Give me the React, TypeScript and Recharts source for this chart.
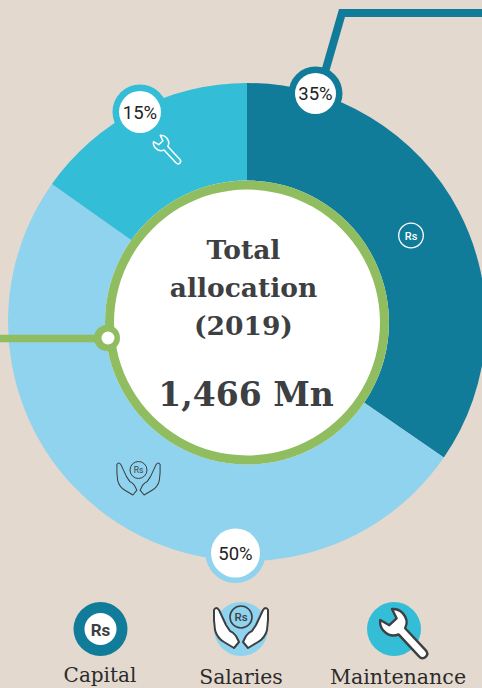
import React from 'react';
import { PieChart, Pie, Cell } from 'recharts';

const categories = ['Capital', 'Salaries', 'Maintenance'];
// slice sizes as drawn in the picture; the printed labels are rounded
const sliceValues = [34.6, 50.2, 15.2];
const percentLabels = ['35%', '50%', '15%'];
const sliceColors = ['#117b9a', '#8fd3ee', '#33bdd6'];
const titleLines = ['Total', 'allocation', '(2019)'];
const totalLabel = '1,466 Mn';

const data = categories.map((name, i) => ({ name, value: sliceValues[i] }));

const BG = '#e3d9ce';
const GREEN = '#8fbd5f';
const DARK = '#3d3f42';
const SERIF = "'DejaVu Serif', serif";
const SANS = 'Roboto, sans-serif';

const badges = [
    { x: 315.5, y: 93.5, r: 20.5, ring: 27 },
    { x: 235.5, y: 553, r: 24.5, ring: 30 },
    { x: 140, y: 112, r: 21, ring: 27.5 },
];
const legendLabels = [
    { x: 100, y: 682, size: 20 },
    { x: 241, y: 684, size: 20.4 },
    { x: 398, y: 684, size: 20.6 },
];

// right hand of the pair, x measured from the icon's centre line
const HAND =
    'M2 34 L5 28 Q8 24 11 23 L15 17 L22 2 Q25 -2 27 2 L27 12 L26 22 Q24 30 17 34 L7 40 Z';

const Hands: React.FC<{ x: number; y: number; s: number; fill: string; width: number }> = ({ x, y, s, fill, width }) => (
    <g stroke={DARK} strokeWidth={width} fill={fill} strokeLinejoin="round">
        <path d={HAND} transform={`translate(${x},${y}) scale(${s})`} />
        <path d={HAND} transform={`translate(${x},${y}) scale(${-s},${s})`} />
    </g>
);

const WRENCH =
    'M-4.5 10 Q-13 7 -13 -3 Q-13 -9 -8 -13 L-5 -3 L5 -3 L8 -13 Q13 -9 13 -3 Q13 7 4.5 10 L4.5 40 Q4.5 45 0 45 Q-4.5 45 -4.5 40 Z';

const Overlay: React.FC = () => (
    <svg width={482} height={688} style={{ position: 'absolute', left: 0, top: 0 }}>
        {/* leader lines */}
        <path d="M325 72 L342 13 L482 13" fill="none" stroke={sliceColors[0]} strokeWidth={8} />
        <line x1={0} y1={338.5} x2={100} y2={338.5} stroke={GREEN} strokeWidth={7.5} />
        <circle cx={107} cy={338} r={13} fill={GREEN} />
        <circle cx={108} cy={338} r={6.5} fill="#fff" />

        {/* percent badges */}
        {badges.map((b, i) => (
            <g key={i}>
                <circle cx={b.x} cy={b.y} r={b.ring} fill={sliceColors[i]} />
                <circle cx={b.x} cy={b.y} r={b.r} fill="#fff" />
                <text
                    x={b.x}
                    y={b.y + 6.5}
                    textAnchor="middle"
                    fontFamily={SANS}
                    fontSize={18.5}
                    fill="#222"
                >
                    {percentLabels[i]}
                </text>
            </g>
        ))}

        {/* icons on the ring */}
        <circle cx={411} cy={235.5} r={12.3} fill="none" stroke="#fff" strokeWidth={1.3} />
        <text x={411} y={239.5} textAnchor="middle" fontFamily={SANS} fontWeight={500} fontSize={11} fill="#fff">Rs</text>

        <circle cx={138.5} cy={470} r={8.5} fill="none" stroke={DARK} strokeWidth={1} />
        <text x={138.5} y={473} textAnchor="middle" fontFamily={SANS} fontSize={8.5} fill={DARK}>Rs</text>
        <Hands x={138.5} y={463} s={0.8} fill="none" width={1.3} />

        <g transform="translate(162,144) rotate(-43) scale(0.58)">
            <path d={WRENCH} fill="none" stroke="#fff" strokeWidth={2.6} strokeLinejoin="round" />
        </g>

        {/* centre text */}
        {titleLines.map((t, i) => (
            <text
                key={t}
                x={243.5}
                y={259 + i * 38}
                textAnchor="middle"
                fontFamily={SERIF}
                fontWeight={700}
                fontSize={26.5}
                fill={DARK}
            >
                {t}
            </text>
        ))}
        <text
            x={246}
            y={406}
            textAnchor="middle"
            fontFamily={SERIF}
            fontWeight={700}
            fontSize={33}
            fill={DARK}
        >
            {totalLabel}
        </text>

        {/* legend */}
        <circle cx={100.5} cy={629} r={27} fill={sliceColors[0]} />
        <circle cx={100.5} cy={629} r={16} fill="#fff" />
        <text x={100.5} y={635.5} textAnchor="middle" fontFamily={SANS} fontWeight={700} fontSize={17} fill={DARK}>Rs</text>

        <circle cx={241} cy={629} r={27} fill={sliceColors[1]} />
        <circle cx={241} cy={617} r={11} fill="none" stroke={DARK} strokeWidth={1.6} />
        <text x={241} y={621} textAnchor="middle" fontFamily={SANS} fontWeight={500} fontSize={11.5} fill={DARK}>Rs</text>
        <Hands x={241} y={608} s={1} fill="#fff" width={2} />

        <circle cx={394} cy={629} r={27} fill={sliceColors[2]} />
        <g transform="translate(395,624) rotate(-43)">
            <path d={WRENCH} fill="#fff" stroke={DARK} strokeWidth={2.4} strokeLinejoin="round" />
        </g>

        {categories.map((c, i) => (
            <text
                key={c}
                x={legendLabels[i].x}
                y={legendLabels[i].y}
                textAnchor="middle"
                fontFamily={SERIF}
                fontSize={legendLabels[i].size}
                fill="#2b2b2b"
            >
                {c}
            </text>
        ))}
    </svg>
);

export default function App() {
    return (
        <div style={{ position: 'absolute', left: 0, top: 0, width: 482, height: 688, background: BG, overflow: 'hidden' }}>
            <PieChart width={482} height={688} margin={{ top: 0, right: 0, bottom: 0, left: 0 }}>
                <Pie
                    data={data}
                    dataKey="value"
                    nameKey="name"
                    cx={247}
                    cy={322}
                    outerRadius={239}
                    innerRadius={135}
                    startAngle={90}
                    endAngle={-270}
                    stroke="none"
                    isAnimationActive={false}
                >
                    {data.map((_, i) => (
                        <Cell key={i} fill={sliceColors[i]} />
                    ))}
                </Pie>
                <Pie
                    data={[{ name: 'total', value: 1 }]}
                    dataKey="value"
                    cx={247}
                    cy={322.5}
                    outerRadius={142}
                    innerRadius={0}
                    fill="#fff"
                    stroke="none"
                    isAnimationActive={false}
                />
                <Pie
                    data={[{ name: 'ring', value: 1 }]}
                    dataKey="value"
                    cx={247}
                    cy={322.5}
                    outerRadius={142}
                    innerRadius={133}
                    fill={GREEN}
                    stroke="none"
                    isAnimationActive={false}
                />
            </PieChart>
            <Overlay />
        </div>
    );
}
